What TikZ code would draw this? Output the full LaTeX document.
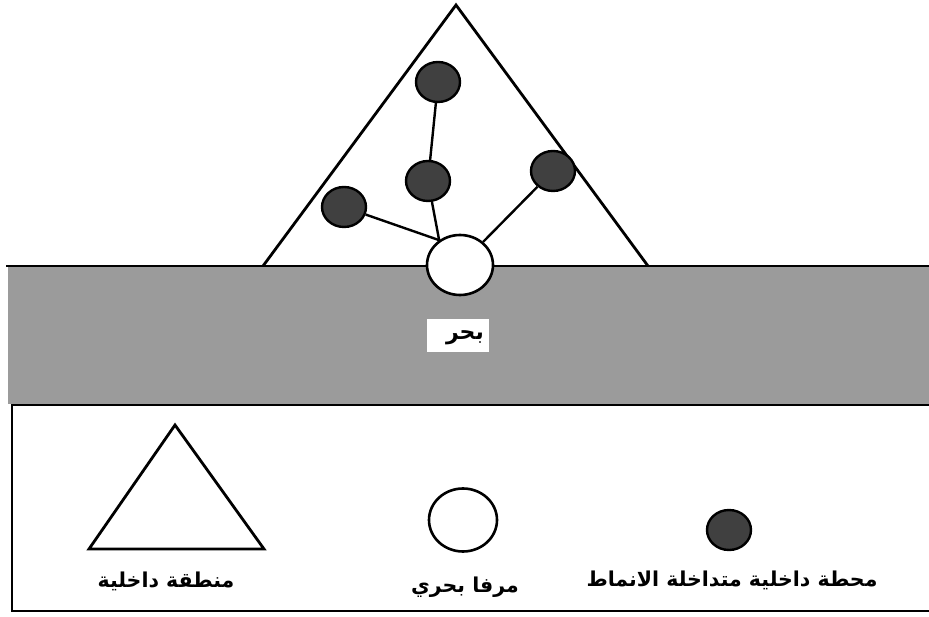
\documentclass[tikz,border=0pt]{standalone}
\usepackage{fontspec}
\usetikzlibrary{shapes.geometric}
\TeXXeTstate=1
\newfontfamily\arabicfont[Script=Arabic]{DejaVu Sans}
\definecolor{seagray}{RGB}{155,155,155}
\definecolor{stationfill}{RGB}{64,64,64}
\tikzset{
  outline/.style={draw=black, line width=2.8pt, line join=miter},
  station/.style={ellipse, draw=black, line width=2.4pt, fill=stationfill, minimum width=44pt, minimum height=40pt, inner sep=0pt},
  portnode/.style={ellipse, draw=black, line width=2.6pt, fill=white, minimum width=66pt, minimum height=60pt, inner sep=0pt},
  link/.style={draw=black, line width=2.4pt},
  lbl/.style={font=\arabicfont\bfseries\fontsize{20.5}{23}\selectfont, inner sep=0pt, text=black},
}
\begin{document}
\begin{tikzpicture}[x=1pt, y=-1pt]
\useasboundingbox (0,0) rectangle (929,617);
% sea band
\fill[seagray] (8,266) rectangle (935,404);
% legend box
\draw[outline] (12,611) -- (12,405) -- (940,405);
\draw[outline] (12,600) -- (12,611) -- (940,611);
% main inland triangle
\coordinate (apex) at (456,5);
\coordinate (bl) at (263,266);
\coordinate (br) at (648,266);
\draw[outline, fill=white] (bl) -- (apex) -- (br);
% sea top line
\draw[outline] (6,266) -- (940,266);
% nodes
\node[portnode] (port) at (460,265) {};
\node[station] (top) at (438,82) {};
\node[station] (mid) at (428,181) {};
\node[station] (left) at (344,207) {};
\node[station] (right) at (553,171) {};
\draw[link] (top) -- (mid);
\draw[link] (mid) -- (port.130);
\draw[link] (left) -- (port.130);
\draw[link] (right) -- (port.45);
% sea label
\node[fill=white, minimum width=62pt, minimum height=33pt, inner sep=0pt] (seabox) at (458,336) {};
\node[lbl, font=\arabicfont\bfseries\fontsize{22}{24}\selectfont, anchor=east] (sealbl) at (484,338) {\beginR بحر\endR};
% legend
\coordinate (la) at (175,425);
\coordinate (lbl1) at (89,549);
\coordinate (lbr) at (264,549);
\draw[outline, fill=white] (lbl1) -- (la) -- (lbr) -- cycle;
\node[portnode, minimum width=68pt, minimum height=63pt] (lport) at (463,520) {};
\node[station] (lstation) at (729,530) {};
\node[lbl] (t1) at (166,581) {\beginR منطقة داخلية\endR};
\node[lbl] (t2) at (465,587) {\beginR مرفا بحري\endR};
\node[lbl] (t3) at (732,580) {\beginR محطة داخلية متداخلة الانماط\endR};
\end{tikzpicture}
\end{document}
